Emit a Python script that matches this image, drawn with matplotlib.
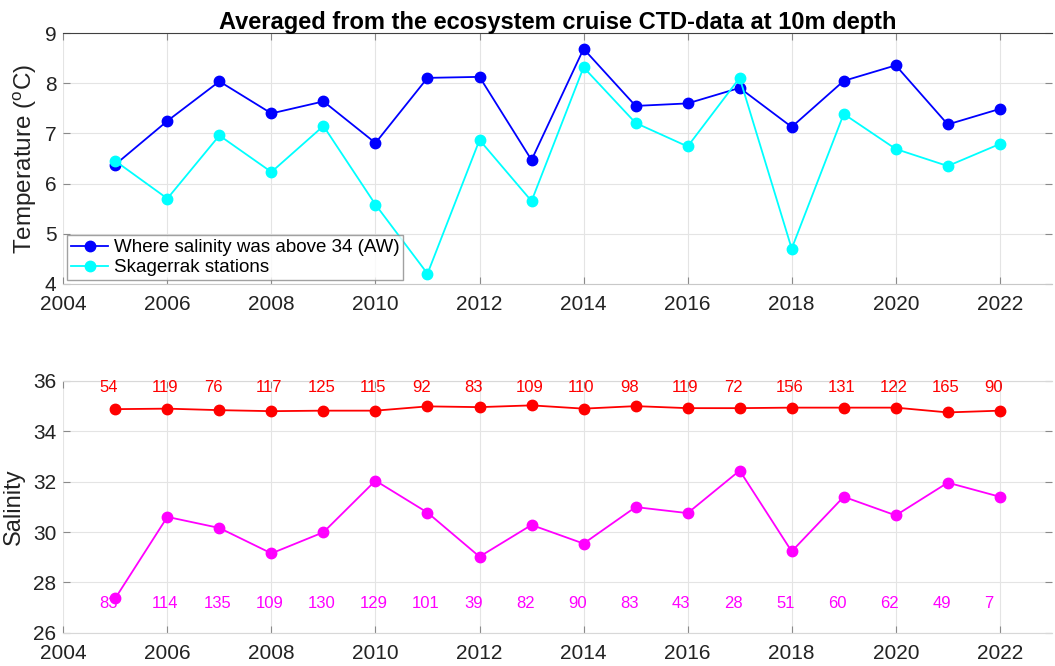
import numpy as np
import matplotlib
matplotlib.use("Agg")
import matplotlib.pyplot as plt

plt.rcParams["font.family"] = ["Liberation Sans", "DejaVu Sans"]
plt.rcParams["mathtext.fontset"] = "custom"
plt.rcParams["mathtext.rm"] = "Liberation Sans"

years = np.arange(2005, 2023)

# mean temperature at 10 m (deg C)
temp_aw = [6.38, 7.25, 8.04, 7.40, 7.64, 6.81, 8.11, 8.13, 6.47,
           8.69, 7.55, 7.60, 7.91, 7.13, 8.05, 8.36, 7.18, 7.49]
temp_skag = [6.45, 5.70, 6.96, 6.23, 7.15, 5.58, 4.20, 6.87, 5.65,
             8.32, 7.21, 6.74, 8.11, 4.70, 7.39, 6.69, 6.35, 6.79]

# mean salinity at 10 m
sal_aw = [34.88, 34.90, 34.84, 34.80, 34.82, 34.82, 34.99, 34.96, 35.03,
          34.90, 35.00, 34.92, 34.92, 34.94, 34.94, 34.94, 34.75, 34.82]
sal_skag = [27.37, 30.60, 30.16, 29.15, 29.99, 32.04, 30.77, 29.02, 30.28,
            29.54, 30.99, 30.75, 32.44, 29.23, 31.40, 30.66, 31.96, 31.40]

# number of observations per year
n_aw = [54, 119, 76, 117, 125, 115, 92, 83, 109,
        110, 98, 119, 72, 156, 131, 122, 165, 90]
n_skag = [83, 114, 135, 109, 130, 129, 101, 39, 82,
          90, 83, 43, 28, 51, 60, 62, 49, 7]

fig = plt.figure(figsize=(10.55, 6.66), dpi=100)
ax1 = fig.add_axes([0.060, 0.574, 0.937, 0.376])
ax2 = fig.add_axes([0.060, 0.050, 0.937, 0.378])

grid_kw = dict(color="#e4e4e4", linewidth=0.8)
line_kw = dict(marker="o", markersize=7.5, linewidth=1.3)


def style_axes(ax, top_color, bottom_color):
    ax.set_xlim(2004, 2023)
    ax.set_xticks(np.arange(2004, 2023, 2))
    ax.grid(True, **grid_kw)
    ax.set_axisbelow(True)
    for side in ("left", "right"):
        ax.spines[side].set_visible(False)
    ax.spines["top"].set_color(top_color)
    ax.spines["bottom"].set_color(bottom_color)
    ax.tick_params(axis="both", direction="in", length=5, width=0.8,
                   color="#8a8a8a", labelsize=15, labelcolor="#222222",
                   top=True, right=True)
    ax.tick_params(axis="x", pad=8)
    ax.tick_params(axis="y", pad=5)


ax1.plot(years, temp_aw, color="blue", label="Where salinity was above 34 (AW)", **line_kw)
ax1.plot(years, temp_skag, color="cyan", label="Skagerrak stations", **line_kw)
ax1.set_ylim(4, 9)
ax1.set_yticks(np.arange(4, 10, 1))
style_axes(ax1, "#404040", "#c8c8c8")
ax1.set_ylabel("Temperature ($^{\\rm o}$C)", fontsize=17.5, color="#222222", labelpad=4)
ax1.set_title("Averaged from the ecosystem cruise CTD-data at 10m depth",
              fontsize=17, fontweight="bold", pad=3)
leg = ax1.legend(loc="lower left", fontsize=13.5, frameon=True, fancybox=False,
                 edgecolor="#8a8a8a", borderpad=0.2, handlelength=2.0,
                 handletextpad=0.3, labelspacing=0.15, borderaxespad=0.2)
leg.get_frame().set_linewidth(1.0)

ax2.plot(years, sal_aw, color="red", **line_kw)
ax2.plot(years, sal_skag, color="magenta", **line_kw)
ax2.set_ylim(26, 36)
ax2.set_yticks(np.arange(26, 37, 2))
style_axes(ax2, "#d8d8d8", "#d8d8d8")
ax2.set_ylabel("Salinity", fontsize=17, color="#222222", labelpad=6)

for yr, n in zip(years, n_aw):
    ax2.text(yr - 0.3, 35.75, str(n), color="red", fontsize=12,
             ha="left", va="center")
for yr, n in zip(years, n_skag):
    ax2.text(yr - 0.3, 27.15, str(n), color="magenta", fontsize=12,
             ha="left", va="center")

fig.savefig("out.png", dpi=100)
